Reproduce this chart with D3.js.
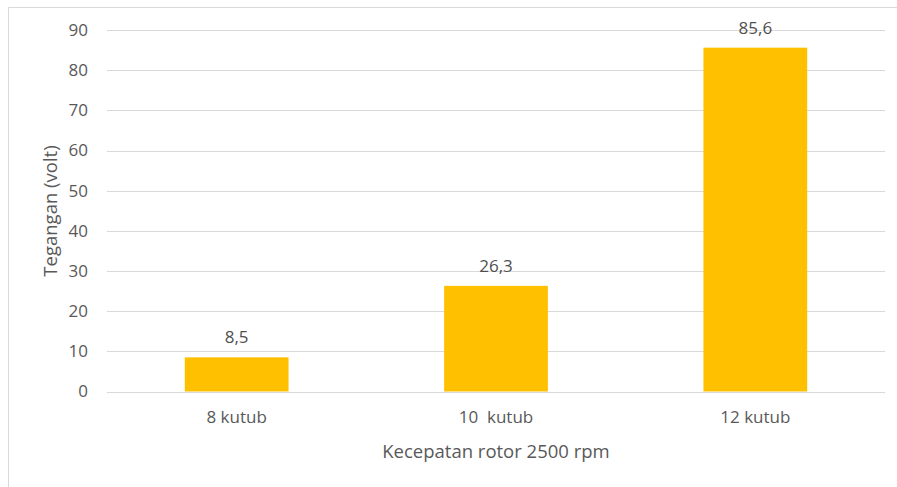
<!DOCTYPE html>
<html><head><meta charset="utf-8">
<script src="https://cdn.jsdelivr.net/npm/d3@7"></script>
<style>body{margin:0;background:#fff;} svg{display:block;} text{font-family:"Open Sans",sans-serif;}</style>
</head><body>
<svg id="c" width="897" height="487"></svg>
<script>
const categories = ["8 kutub", "10  kutub", "12 kutub"];
const values = [8.5, 26.3, 85.6];
const valueLabels = ["8,5", "26,3", "85,6"];
const yTicks = [0, 10, 20, 30, 40, 50, 60, 70, 80, 90];
const xTitle = "Kecepatan rotor 2500 rpm";
const yTitle = "Tegangan (volt)";

const svg = d3.select("#c");
const L = 107, R = 885, T = 30, B = 391.5;
const x = d3.scaleBand().domain(categories).range([L, R]).paddingInner(0.6).paddingOuter(0.3);
const y = d3.scaleLinear().domain([0, 90]).range([B, T]);
const txt = "#595959";

// border
svg.append("line").attr("x1", 8.5).attr("x2", 8.5).attr("y1", 7.5).attr("y2", 487).attr("stroke", "#d9d9d9");
svg.append("line").attr("x1", 8.5).attr("x2", 897).attr("y1", 7.5).attr("y2", 7.5).attr("stroke", "#d9d9d9");

// gridlines
svg.append("g").selectAll("line").data(yTicks).join("line")
  .attr("x1", L).attr("x2", R)
  .attr("y1", d => Math.round(y(d)) + 0.5).attr("y2", d => Math.round(y(d)) + 0.5)
  .attr("stroke", "#d9d9d9").attr("stroke-width", 1);

// y axis labels
const ya = svg.append("g").attr("transform", `translate(${L},0)`)
  .call(d3.axisLeft(y).tickValues(yTicks).tickSize(0).tickPadding(19));
ya.select(".domain").remove();
ya.selectAll("text").attr("fill", txt).style("font-size", "17px").style("font-family", "Open Sans");

// bars
svg.append("g").selectAll("rect").data(values).join("rect")
  .attr("x", (d, i) => x(categories[i]))
  .attr("width", x.bandwidth())
  .attr("y", d => y(d))
  .attr("height", d => y(0) - y(d))
  .attr("fill", "#FFC000");

// value labels
svg.append("g").selectAll("text").data(values).join("text")
  .attr("x", (d, i) => x(categories[i]) + x.bandwidth() / 2)
  .attr("y", d => y(d) - 14)
  .attr("text-anchor", "middle")
  .attr("fill", "#505050").style("font-size", "17px")
  .text((d, i) => valueLabels[i]);

// x axis labels
const xa = svg.append("g").attr("transform", `translate(0,${B})`)
  .call(d3.axisBottom(x).tickSize(0).tickPadding(19));
xa.select(".domain").remove();
xa.selectAll("text").attr("fill", txt).style("font-size", "17px").style("font-family", "Open Sans").style("white-space", "pre");

// titles
svg.append("text").attr("x", 496).attr("y", 458).attr("text-anchor", "middle")
  .attr("fill", txt).style("font-size", "18.5px").text(xTitle);
svg.append("text").attr("transform", "translate(57,211) rotate(-90)").attr("text-anchor", "middle")
  .attr("fill", txt).style("font-size", "18.5px").text(yTitle);
</script>
</body></html>
